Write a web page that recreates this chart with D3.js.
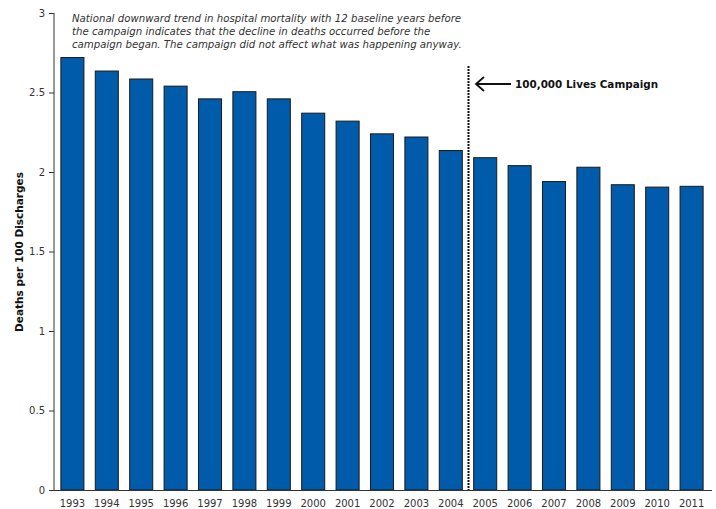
<!DOCTYPE html>
<html><head><meta charset="utf-8">
<script src="https://cdn.jsdelivr.net/npm/d3@7"></script>
<style>body{margin:0;background:#fff}svg{display:block}text{font-family:"DejaVu Sans",Verdana,sans-serif}</style>
</head><body><svg id="c" width="716" height="509"></svg>
<script>
const years = ["1993","1994","1995","1996","1997","1998","1999","2000","2001","2002","2003","2004","2005","2006","2007","2008","2009","2010","2011"];
const deaths = [2.72,2.635,2.585,2.54,2.46,2.505,2.46,2.37,2.32,2.24,2.22,2.135,2.09,2.04,1.94,2.03,1.92,1.905,1.91];
const yTicks = [0,0.5,1,1.5,2,2.5,3];
const yTickLabels = ["0","0.5","1","1.5","2","2.5","3"];
const noteLines = ["National downward trend in hospital mortality with 12 baseline years before","the campaign indicates that the decline in deaths occurred before the","campaign began. The campaign did not affect what was happening anyway."];
const campaignLabel = "100,000 Lives Campaign";
const campaignAfter = "2004";

const svg = d3.select("#c");
const x = d3.scaleBand().domain(years).range([54,710]).paddingInner(0.33).paddingOuter(0.2);
const y = d3.scaleLinear().domain([0,3]).range([490,13]);

svg.selectAll("rect.bar").data(deaths).join("rect").attr("class","bar")
  .attr("x",(d,i)=>x(years[i])).attr("width",x.bandwidth())
  .attr("y",d=>y(d)).attr("height",d=>y(0)-y(d))
  .attr("fill","#005bab").attr("stroke","#1a1a1a").attr("stroke-width",1);

const ya = svg.append("g").attr("transform","translate(54,0)")
  .call(d3.axisLeft(y).tickValues(yTicks).tickFormat((d,i)=>yTickLabels[i]).tickSize(5).tickPadding(4));
ya.select(".domain").attr("stroke","#333").attr("d","M0,13V490");
ya.selectAll(".tick line").attr("stroke","#333");
ya.selectAll("text").attr("font-size","10px").attr("fill","#333").attr("font-family","DejaVu Sans");

const xa = svg.append("g").attr("transform","translate(0,490)")
  .call(d3.axisBottom(x).tickSize(0).tickPadding(10));
xa.select(".domain").attr("stroke","#333").attr("d","M54,0.5H712");
xa.selectAll("text").attr("font-size","10px").attr("fill","#333").attr("font-family","DejaVu Sans");

svg.append("text").attr("transform","translate(23,252) rotate(-90)")
  .attr("text-anchor","middle").attr("font-size","10.5px").attr("font-weight","bold").attr("fill","#111")
  .text("Deaths per 100 Discharges");

const note = svg.append("text").attr("font-size","10.2px").attr("font-style","italic").attr("fill","#333");
noteLines.forEach((l,i)=>note.append("tspan").attr("x",72).attr("y",22+i*13).text(l));

const ci = years.indexOf(campaignAfter);
const lx = Math.round((x(years[ci])+x.bandwidth()+x(years[ci+1]))/2)+0.5;
svg.append("line").attr("x1",lx).attr("x2",lx).attr("y1",66).attr("y2",490)
  .attr("stroke","#111").attr("stroke-width",2).attr("stroke-dasharray","2,1");

svg.append("line").attr("x1",477).attr("x2",511).attr("y1",84).attr("y2",84).attr("stroke","#111").attr("stroke-width",1.8);
svg.append("path").attr("d","M484,77 L476,84 L484,91").attr("fill","none").attr("stroke","#111").attr("stroke-width",1.8);
svg.append("text").attr("x",515).attr("y",88).attr("font-size","10.4px").attr("font-weight","bold").attr("fill","#111").text(campaignLabel);
</script></body></html>
